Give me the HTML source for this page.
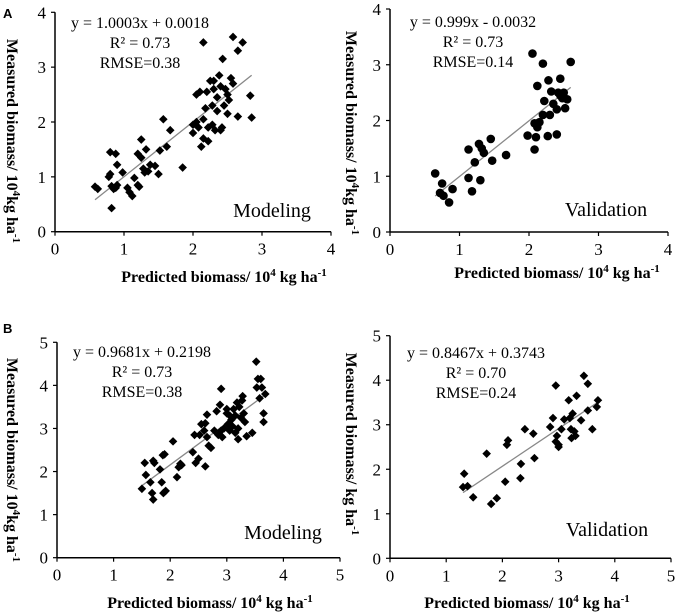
<!DOCTYPE html>
<html><head><meta charset="utf-8"><style>
html,body{margin:0;padding:0;background:#fff}
svg{display:block}
text{font-family:"Liberation Serif",serif;fill:#000}
</style></head><body>
<svg id="c" width="680" height="616" viewBox="0 0 680 616">
<text x="3" y="18" style="font-family:'Liberation Sans',sans-serif;font-weight:bold;font-size:13px">A</text>
<text x="3" y="333" style="font-family:'Liberation Sans',sans-serif;font-weight:bold;font-size:13px">B</text>
</svg>
<script>
const aModX=[0.58,0.62,0.8,0.88,0.78,0.8,0.82,0.85,0.88,0.9,0.9,0.82,0.98,1.05,1.08,1.12,1.15,1.2,1.22,1.2,1.25,1.25,1.28,1.3,1.32,1.35,1.38,1.45,1.5,1.52,1.57,1.62,1.67,1.85,2.0,2.0,2.05,2.05,2.08,2.1,2.12,2.15,2.15,2.15,2.18,2.2,2.22,2.22,2.25,2.28,2.28,2.3,2.3,2.32,2.35,2.35,2.38,2.4,2.4,2.42,2.43,2.45,2.47,2.5,2.5,2.52,2.55,2.58,2.58,2.65,2.65,2.72,2.83,2.85];
const aModY=[0.82,0.78,1.45,1.42,1.0,1.05,0.83,0.78,0.8,0.85,1.22,0.43,1.08,0.8,0.72,0.65,0.98,0.85,0.82,1.42,1.68,1.35,1.15,1.08,1.5,1.1,1.22,1.2,1.05,1.48,2.05,1.55,1.85,1.17,1.8,1.95,2.5,2.0,1.9,2.55,1.55,2.05,1.7,3.45,2.25,2.55,1.65,1.9,2.75,2.3,1.95,2.75,2.6,1.85,2.45,2.2,2.85,2.65,1.85,1.9,3.15,2.3,2.6,2.15,2.5,2.4,2.8,2.7,3.55,3.3,2.1,3.45,2.48,2.08];
const aValX=[0.65,0.72,0.75,0.77,0.85,0.9,1.13,1.13,1.18,1.22,1.28,1.3,1.32,1.35,1.45,1.47,1.67,1.98,2.05,2.08,2.08,2.1,2.12,2.12,2.15,2.2,2.2,2.22,2.27,2.28,2.3,2.32,2.35,2.4,2.4,2.42,2.45,2.45,2.48,2.5,2.52,2.55,2.6];
const aValY=[1.05,0.7,0.87,0.65,0.53,0.77,1.48,0.97,0.73,1.25,1.58,0.93,1.5,1.42,1.67,1.28,1.38,1.73,3.2,1.95,1.48,1.7,2.62,1.88,1.97,2.1,3.02,2.35,1.72,2.72,2.1,2.52,2.3,1.75,2.2,2.5,2.75,2.45,2.4,2.5,2.22,2.38,3.05];
const bModX=[1.5,1.55,1.57,1.65,1.68,1.7,1.7,1.72,1.82,1.85,1.87,1.88,1.9,1.92,2.05,2.12,2.15,2.18,2.2,2.4,2.43,2.45,2.5,2.52,2.55,2.6,2.62,2.62,2.65,2.65,2.68,2.72,2.78,2.82,2.85,2.88,2.9,2.9,2.92,2.95,3.0,3.0,3.02,3.05,3.05,3.08,3.1,3.12,3.15,3.15,3.18,3.2,3.2,3.22,3.25,3.27,3.28,3.3,3.32,3.35,3.45,3.52,3.53,3.55,3.58,3.6,3.62,3.65,3.65,3.68];
const bModY=[1.6,2.2,1.92,1.75,1.5,1.35,2.25,2.2,2.05,1.75,2.38,1.5,2.4,1.55,2.7,1.87,2.1,2.18,2.15,2.45,2.85,2.2,2.3,2.85,3.1,2.95,3.12,2.12,3.32,2.8,2.6,2.55,2.95,3.4,2.85,3.55,3.92,2.95,2.8,3.0,3.35,3.45,3.1,2.95,3.3,3.2,3.05,3.45,3.3,2.9,3.6,2.75,3.0,3.5,3.25,3.65,3.75,3.35,3.15,2.82,2.9,4.55,3.95,4.15,3.7,4.15,3.95,3.35,3.15,3.8];
const bValX=[1.3,1.32,1.38,1.48,1.72,1.8,1.9,2.05,2.08,2.1,2.32,2.33,2.4,2.55,2.57,2.85,2.9,2.95,2.95,2.97,3.0,3.0,3.05,3.1,3.18,3.2,3.22,3.23,3.25,3.28,3.3,3.32,3.4,3.45,3.52,3.52,3.6,3.68,3.7];
const bValY=[1.6,1.9,1.62,1.37,2.35,1.22,1.35,1.72,2.55,2.65,1.8,2.12,2.9,2.8,2.25,2.95,3.15,3.88,2.62,2.75,2.55,2.5,2.9,3.12,3.55,3.15,2.9,2.7,3.25,2.85,2.75,3.65,3.1,4.1,3.92,3.32,2.9,3.4,3.55];
const xTicksA=[0,1,2,3,4], yTicksA=[0,1,2,3,4], xTicksB=[0,1,2,3,4,5], yTicksB=[0,1,2,3,4,5];

const svg=document.getElementById('c');
const NS='http://www.w3.org/2000/svg';
function mk(tag,attrs,txt){const e=document.createElementNS(NS,tag);for(const k in attrs)e.setAttribute(k,attrs[k]);if(txt!==undefined)e.textContent=txt;svg.appendChild(e);return e;}

function panel(p){
  const sx=v=>p.x0+(v/p.max)*(p.x1-p.x0);
  const sy=v=>p.y0-(v/p.max)*(p.y0-p.y1);
  let e=mk('line',{x1:p.x0,y1:p.y0,x2:p.x1,y2:p.y0,stroke:'#000','stroke-width':1.5});
  
  
  e=mk('line',{x1:p.x0,y1:p.y0,x2:p.x0,y2:p.y1,stroke:'#000','stroke-width':1.5});
  
  
  p.xt.forEach(t=>{
    let l=mk('line',{x1:sx(t),y1:p.y0,x2:sx(t),y2:p.y0+4,stroke:'#000','stroke-width':1.2});
    
    
    let s=mk('text',{x:sx(t),y:p.y0+23,'text-anchor':'middle','font-size':17},String(t));
    
    
  });
  p.yt.forEach(t=>{
    let l=mk('line',{x1:p.x0-4,y1:sy(t),x2:p.x0,y2:sy(t),stroke:'#000','stroke-width':1.2});
    
    
    let s=mk('text',{x:p.x0-9,y:sy(t)+6,'text-anchor':'end','font-size':17},String(t));
    
    
  });
  const lx0=Math.min(...p.xs), lx1=Math.max(...p.xs);
  e=mk('line',{x1:sx(lx0),y1:sy(p.a*lx0+p.b),x2:sx(lx1),y2:sy(p.a*lx1+p.b),stroke:'#888','stroke-width':1.3});
  
  
  p.xs.forEach((v,i)=>{
    const cx=sx(v), cy=sy(p.ys[i]);
    let m;
    if(p.circle) m=mk('circle',{cx:cx,cy:cy,r:4.3,fill:'#000'});
    else m=mk('polygon',{points:`${cx},${cy-4.3} ${cx+4.3},${cy} ${cx},${cy+4.3} ${cx-4.3},${cy}`,fill:'#000'});
    
    
  });
  p.eq.forEach((s,i)=>{
    let t=mk('text',{x:p.ex,y:p.ey+i*20,'text-anchor':'middle','font-size':16},s);
    
    
  });
  let t=mk('text',{x:p.lx,y:p.ly,'text-anchor':'middle','font-size':20},p.label);
  
  
  t=mk('text',{x:p.tx,y:p.ty,'text-anchor':'middle','font-size':16,'font-weight':'bold'});
  t.innerHTML='Predicted biomass/ 10<tspan dy="-6" font-size="11">4</tspan><tspan dy="6"> kg ha</tspan><tspan dy="-6" font-size="11">-1</tspan>';
  
  
  t=mk('text',{x:0,y:0,'text-anchor':'middle','font-size':16,'font-weight':'bold',transform:`translate(${p.yx},${p.yy}) rotate(90)`});
  t.innerHTML=p.ytitle;
  
  
}
const ytA='Measured biomass/ 10<tspan dy="-6" font-size="11">4</tspan><tspan dy="6">kg ha</tspan><tspan dy="-6" font-size="11">-1</tspan>';
panel({id:'a-modeling',x0:55,x1:331,y0:231.7,y1:12.3,max:4,xt:xTicksA,yt:yTicksA,xs:aModX,ys:aModY,a:1.0003,b:0.0018,circle:false,
  eq:['y = 1.0003x + 0.0018','R² = 0.73','RMSE=0.38'],ex:140,ey:28,label:'Modeling',lx:272,ly:217,tx:224,ty:282,ytitle:ytA,yx:7,yy:141});
panel({id:'a-validation',x0:390,x1:668,y0:232,y1:9,max:4,xt:xTicksA,yt:yTicksA,xs:aValX,ys:aValY,a:0.999,b:-0.0032,circle:true,
  eq:['y = 0.999x - 0.0032','R² = 0.73','RMSE=0.14'],ex:473,ey:27,label:'Validation',lx:606,ly:216,tx:557,ty:278,ytitle:ytA,yx:346,yy:133});
panel({id:'b-modeling',x0:57,x1:340,y0:557.7,y1:342.3,max:5,xt:xTicksB,yt:yTicksB,xs:bModX,ys:bModY,a:0.9681,b:0.2198,circle:false,
  eq:['y = 0.9681x + 0.2198','R² = 0.73','RMSE=0.38'],ex:142,ey:357,label:'Modeling',lx:283,ly:539,tx:210,ty:608,ytitle:ytA,yx:7,yy:460});
panel({id:'b-validation',x0:390,x1:671,y0:558.3,y1:335.7,max:5,xt:xTicksB,yt:yTicksB,xs:bValX,ys:bValY,a:0.8467,b:0.3743,circle:false,
  eq:['y = 0.8467x + 0.3743','R² = 0.70','RMSE=0.24'],ex:476,ey:358,label:'Validation',lx:607,ly:536,tx:527,ty:608,
  ytitle:'Measured biomass/ kg ha<tspan dy="-6" font-size="11">-1</tspan>',yx:346,yy:444});
</script>
</body></html>
